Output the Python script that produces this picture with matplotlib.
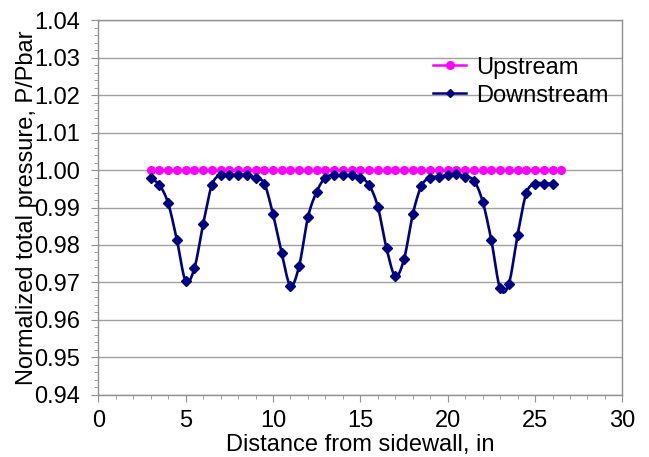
import numpy as np
import matplotlib
matplotlib.use("Agg")
import matplotlib.pyplot as plt
from matplotlib.ticker import MultipleLocator, FormatStrFormatter

plt.rcParams['font.family'] = ['Liberation Sans', 'DejaVu Sans']

# Upstream: flat at 1.000, every 0.5 in from 3.0 to 26.5
upstream_x = [3.0, 3.5, 4.0, 4.5, 5.0, 5.5, 6.0, 6.5, 7.0, 7.5, 8.0, 8.5,
              9.0, 9.5, 10.0, 10.5, 11.0, 11.5, 12.0, 12.5, 13.0, 13.5, 14.0, 14.5,
              15.0, 15.5, 16.0, 16.5, 17.0, 17.5, 18.0, 18.5, 19.0, 19.5, 20.0, 20.5,
              21.0, 21.5, 22.0, 22.5, 23.0, 23.5, 24.0, 24.5, 25.0, 25.5, 26.0, 26.5]
upstream_p = [1.000] * len(upstream_x)

# Downstream: every 0.5 in from 3.0 to 26.0
downstream_x = [3.0, 3.5, 4.0, 4.5, 5.0, 5.5, 6.0, 6.5, 7.0, 7.5, 8.0, 8.5,
                9.0, 9.5, 10.0, 10.5, 11.0, 11.5, 12.0, 12.5, 13.0, 13.5, 14.0, 14.5,
                15.0, 15.5, 16.0, 16.5, 17.0, 17.5, 18.0, 18.5, 19.0, 19.5, 20.0, 20.5,
                21.0, 21.5, 22.0, 22.5, 23.0, 23.5, 24.0, 24.5, 25.0, 25.5, 26.0]
downstream_p = [0.9978, 0.9960, 0.9911, 0.9813, 0.9704, 0.9738, 0.9856, 0.9960,
                0.9987, 0.9987, 0.9987, 0.9987, 0.9978, 0.9964, 0.9882, 0.9778,
                0.9691, 0.9745, 0.9874, 0.9942, 0.9980, 0.9986, 0.9986, 0.9986,
                0.9980, 0.9960, 0.9902, 0.9791, 0.9717, 0.9762, 0.9882, 0.9958,
                0.9980, 0.9982, 0.9987, 0.9989, 0.9982, 0.9972, 0.9916, 0.9812,
                0.9684, 0.9696, 0.9827, 0.9938, 0.9964, 0.9964, 0.9964]


def smooth_curve(x, y, steps=12):
    # Catmull-Rom curve through the points, like Excel's smoothed line
    x = np.asarray(x, float)
    y = np.asarray(y, float)
    px = np.concatenate([[2 * x[0] - x[1]], x, [2 * x[-1] - x[-2]]])
    py = np.concatenate([[2 * y[0] - y[1]], y, [2 * y[-1] - y[-2]]])
    t = np.linspace(0, 1, steps, endpoint=False)
    xs, ys = [], []
    for i in range(1, len(px) - 2):
        for arr, out in ((px, xs), (py, ys)):
            p0, p1, p2, p3 = arr[i - 1], arr[i], arr[i + 1], arr[i + 2]
            out.extend(0.5 * (2 * p1 + (-p0 + p2) * t
                              + (2 * p0 - 5 * p1 + 4 * p2 - p3) * t ** 2
                              + (-p0 + 3 * p1 - 3 * p2 + p3) * t ** 3))
    xs.append(x[-1])
    ys.append(y[-1])
    return xs, ys


fig = plt.figure(figsize=(6.49, 4.57), dpi=100)
ax = fig.add_axes([0.1515, 0.1357, 0.8075, 0.8205])

ax.plot(upstream_x, upstream_p, color='#FF00FF', lw=1.8, marker='o', ms=5.5,
        label='Upstream', zorder=3)
sx, sy = smooth_curve(downstream_x, downstream_p)
ax.plot(sx, sy, color='#000080', lw=1.9, zorder=4)
ax.plot(downstream_x, downstream_p, ls='none', color='#000080', marker='D', ms=5.5,
        zorder=5)
# legend proxy for downstream line + marker
ax.plot([], [], color='#000080', lw=1.8, marker='D', ms=4, label='Downstream')

ax.set_xlim(0, 30)
ax.set_ylim(0.94, 1.04)
ax.xaxis.set_major_locator(MultipleLocator(5))
ax.xaxis.set_minor_locator(MultipleLocator(1))
ax.yaxis.set_major_locator(MultipleLocator(0.01))
ax.yaxis.set_minor_locator(MultipleLocator(0.002))
ax.yaxis.set_major_formatter(FormatStrFormatter('%.2f'))

ax.grid(axis='y', which='major', color='#A0A0A0', lw=1.0)
ax.set_axisbelow(True)
for sp in ax.spines.values():
    sp.set_color('#909090')
    sp.set_linewidth(1.0)

ax.tick_params(which='both', direction='out', colors='#909090', labelcolor='black',
               labelsize=17)
ax.tick_params(which='major', length=5)
ax.tick_params(which='minor', length=3)
ax.tick_params(axis='y', which='major', pad=8)
ax.tick_params(axis='x', which='major', pad=6)

ax.set_xlabel('Distance from sidewall, in', fontsize=17, labelpad=1)
ax.set_ylabel('Normalized total pressure, P/Pbar', fontsize=17, labelpad=-3)

ax.legend(loc='upper right', bbox_to_anchor=(1.0, 0.94), frameon=False, fontsize=17,
          handlelength=1.4, handletextpad=0.4, labelspacing=0.25, borderaxespad=0.2)

fig.savefig('out.png', dpi=100)
